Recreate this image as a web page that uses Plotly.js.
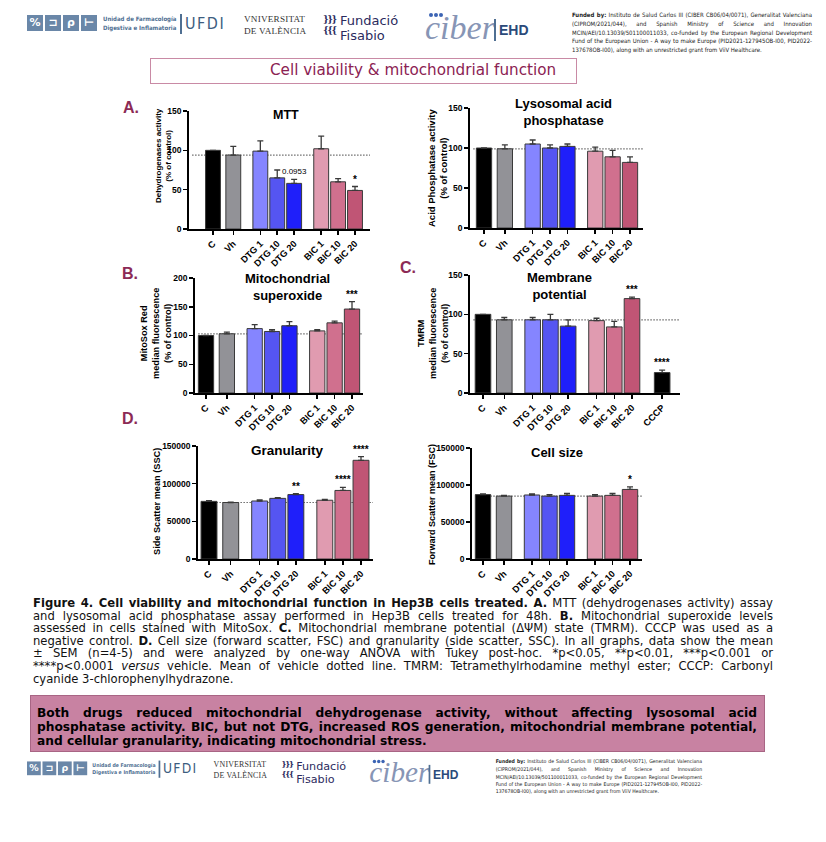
<!DOCTYPE html>
<html><head><meta charset="utf-8">
<script src="https://cdn.plot.ly/plotly-3.0.1.min.js"></script>
<style>
body{margin:0;background:#fff;}
#wrap{position:relative;width:826px;height:842px;overflow:hidden;background:#fff;}
#plot{position:absolute;left:0;top:0;width:826px;height:842px;}
.ov{position:absolute;}
.hdr{position:absolute;width:800px;height:45px;transform-origin:0 0;}
.hdr div{position:absolute;white-space:nowrap;}
.ico{width:16px;height:16px;background:#6a87a8;color:#fff;font:bold 11px 'DejaVu Sans',sans-serif;text-align:center;line-height:16px;}
.t1{font:bold 6px/9px 'DejaVu Sans Condensed','DejaVu Sans',sans-serif;font-stretch:condensed;color:#4f6f92;}
.vbar{width:1.5px;background:#4f6f92;}
.ufdi{font:16px/16px 'DejaVu Sans Condensed','DejaVu Sans',sans-serif;font-stretch:condensed;color:#3d5d80;letter-spacing:1.5px;}
.uv{font:9.2px/12px 'Liberation Serif','DejaVu Serif',serif;color:#333;letter-spacing:0.2px;}
.fisico{font:bold 9px/11px 'DejaVu Serif',serif;color:#2b2b5e;letter-spacing:-1.5px;}
.fis{font:13px/15px 'DejaVu Sans',sans-serif;color:#2b2b5e;}
.ciber{font:italic 34px/34px 'Liberation Serif','DejaVu Serif',serif;color:#8795b5;}
.dot{width:4px;height:4px;border-radius:2px;background:#3c64b4;}
.ehd{font:bold 14px/14px 'Liberation Sans',Arial,sans-serif;color:#2b4a7a;}
.fund{font:6.1px/8.8px 'DejaVu Sans Condensed','DejaVu Sans',sans-serif;font-stretch:condensed;color:#222;width:240px;}
.jl{display:block;white-space:nowrap;text-align:justify;text-align-last:justify;}
.ll{display:block;white-space:nowrap;text-align:left;}
#tbox{left:150px;top:58px;width:427px;height:26px;border:1px solid #c98aa5;box-sizing:border-box;}
#ttext{left:270px;top:61px;font:15.2px/18px 'DejaVu Sans',sans-serif;color:#8b2252;white-space:nowrap;}
#cap{left:33px;top:597px;width:740px;font:10.5px/12.6px 'DejaVu Sans',sans-serif;color:#111;}
#concl{left:30px;top:695px;width:735px;height:57px;background:#c882a2;border:1px solid #a86584;box-sizing:border-box;}
#concltext{left:37px;top:706px;width:720px;font:bold 11.6px/14px 'DejaVu Sans',sans-serif;color:#000;}
</style></head><body>
<div id="wrap">
<div id="plot"></div>

<div class="hdr" id="hdrTop" style="left:27px;top:11px;">
  <div class="ico" style="left:0;top:4px;">%</div>
  <div class="ico" style="left:18px;top:4px;">⊐</div>
  <div class="ico" style="left:36px;top:4px;">ρ</div>
  <div class="ico" style="left:54px;top:4px;">⊢</div>
  <div class="t1" style="left:76px;top:3px;">Unidad de Farmacología<br>Digestiva e Inflamatoria</div>
  <div class="vbar" style="left:153px;top:3px;height:20px;"></div>
  <div class="ufdi" style="left:158px;top:5px;">UFDI</div>
  <div class="uv" style="left:217px;top:2px;">VNIVERSITAT<br>DE VALÈNCIA</div>
  <div class="fisico" style="left:296px;top:3px;">}}}<br>{{{</div>
  <div class="fis" style="left:313px;top:2px;">Fundació<br>Fisabio</div>
  <div class="ciber" style="left:398px;top:0px;">ciber</div>
  <div class="dot" style="left:402px;top:2px;"></div>
  <div class="dot" style="left:407px;top:2px;"></div>
  <div class="dot" style="left:412px;top:2px;"></div>
  <div class="vbar" style="left:467px;top:8px;height:22px;"></div>
  <div class="ehd" style="left:472px;top:12px;">EHD</div>
  <div class="fund" style="left:545px;top:0px;">
    <span class="jl"><b>Funded by:</b> Instituto de Salud Carlos III (CIBER CB06/04/0071), Generalitat Valenciana</span>
    <span class="jl">(CIPROM/2021/044), and Spanish Ministry of Science and Innovation</span>
    <span class="jl">MCIN/AEI/10.13039/501100011033, co-funded by the European Regional Development</span>
    <span class="jl">Fund of the European Union - A way to make Europe (PID2021-127945OB-I00, PID2022-</span>
    <span class="ll">137678OB-I00), along with an unrestricted grant from ViiV Healthcare.</span>
  </div>
</div>

<div class="ov" id="tbox"></div>
<div class="ov" id="ttext">Cell viability &amp; mitochondrial function</div>

<div class="ov" id="cap">
<span class="jl"><b>Figure 4. Cell viability and mitochondrial function in Hep3B cells treated. A.</b> MTT (dehydrogenases activity) assay</span>
<span class="jl">and lysosomal acid phosphatase assay performed in Hep3B cells treated for 48h. <b>B.</b> Mitochondrial superoxide levels</span>
<span class="jl">assessed in cells stained with MitoSox. <b>C.</b> Mitochondrial membrane potential (ΔΨM) state (TMRM). CCCP was used as a</span>
<span class="jl">negative control. <b>D.</b> Cell size (forward scatter, FSC) and granularity (side scatter, SSC). In all graphs, data show the mean</span>
<span class="jl">± SEM (n=4-5) and were analyzed by one-way ANOVA with Tukey post-hoc. *p&lt;0.05, **p&lt;0.01, ***p&lt;0.001 or</span>
<span class="jl">****p&lt;0.0001 <i>versus</i> vehicle. Mean of vehicle dotted line. TMRM: Tetramethylrhodamine methyl ester; CCCP: Carbonyl</span>
<span class="ll">cyanide 3-chlorophenylhydrazone.</span>
</div>

<div class="ov" id="concl"></div>
<div class="ov" id="concltext">
<span class="jl">Both drugs reduced mitochondrial dehydrogenase activity, without affecting lysosomal acid</span>
<span class="jl">phosphatase activity. BIC, but not DTG, increased ROS generation, mitochondrial membrane potential,</span>
<span class="ll">and cellular granularity, indicating mitochondrial stress.</span>
</div>
</div>

<script>
// ---------------- DATA ----------------
const categories  = ['C','Vh','DTG 1','DTG 10','DTG 20','BIC 1','BIC 10','BIC 20'];
const categoriesC = ['C','Vh','DTG 1','DTG 10','DTG 20','BIC 1','BIC 10','BIC 20','CCCP'];

const mttMean = [100, 94, 99, 65, 58, 102, 60, 49];
const mttSem  = [0, 11, 13, 10, 5, 16, 4, 5];
const mttSig  = ['', '', '', '', '0.0953', '', '', '*'];

const lysMean = [100, 99, 105, 100, 102, 96, 89, 82];
const lysSem  = [0, 5, 5, 4, 3, 5, 8, 7];
const lysSig  = ['', '', '', '', '', '', '', ''];

const mitoMean = [100, 103, 112, 107, 117, 108, 122, 146];
const mitoSem  = [0, 3, 7, 3, 7, 2, 3, 13];
const mitoSig  = ['', '', '', '', '', '', '', '***'];

const tmrmMean = [100, 93, 93, 93, 85, 92, 84, 120, 26];
const tmrmSem  = [0, 3, 3, 7, 8, 3, 7, 2, 3];
const tmrmSig  = ['', '', '', '', '', '', '', '***', '****'];

const sscMean = [76500, 75000, 77000, 80500, 85500, 78000, 91000, 131000];
const sscSem  = [1000, 500, 1500, 800, 1200, 1000, 4000, 5000];
const sscSig  = ['', '', '', '', '**', '', '****', '****'];

const fscMean = [87000, 85000, 86500, 85000, 86000, 85000, 86000, 94000];
const fscSem  = [1000, 1000, 1500, 2000, 2500, 2000, 2500, 3500];
const fscSig  = ['', '', '', '', '', '', '', '*'];

// ---------------- STYLE / LAYOUT ----------------
const barColors = ['#000000','#929297','#8585ff','#5555f2','#1f1ffa','#e09bb0','#d0708e','#c05575','#000000'];
const slotPos = [0, 1.2, 2.8, 3.8, 4.8, 6.4, 7.4, 8.4, 10.1];
const W = 826, H = 842;
const FONT = 'Arial, "Liberation Sans", sans-serif';
const LETTER = '#8c2a55';

const panels = [
  {cats:categories, mean:mttMean, sem:mttSem, sig:mttSig, ymax:150, dtick:50,
   box:{x0:189,x1:370,yTop:111,yBot:229,xC:213,xLast:355},
   title:'MTT', tx:286, ty:115, tsize:12.5,
   ytitle:'Dehydrogenases activity<br>(% of control)', yx:164, yy:156, ysize:8},
  {cats:categories, mean:lysMean, sem:lysSem, sig:lysSig, ymax:150, dtick:50,
   box:{x0:470,x1:643,yTop:108,yBot:228,xC:484,xLast:630},
   title:'Lysosomal acid<br>phosphatase', tx:563, ty:112, tsize:13,
   ytitle:'Acid Phosphatase activity<br>(% of control)', yx:437, yy:168, ysize:9.5},
  {cats:categories, mean:mitoMean, sem:mitoSem, sig:mitoSig, ymax:200, dtick:50,
   box:{x0:195,x1:363,yTop:278,yBot:393,xC:206,xLast:352},
   title:'Mitochondrial<br>superoxide', tx:287, ty:287, tsize:13,
   ytitle:'MitoSox Red<br>median fluorescence<br>(% of control)', yx:156, yy:334, ysize:9.2},
  {cats:categoriesC, mean:tmrmMean, sem:tmrmSem, sig:tmrmSig, ymax:150, dtick:50,
   box:{x0:470,x1:680,yTop:275,yBot:393,xC:483,xLast:632},
   title:'Membrane<br>potential', tx:559, ty:286, tsize:13,
   ytitle:'TMRM<br>median fluorescence<br>(% of control)', yx:433, yy:334, ysize:9.2},
  {cats:categories, mean:sscMean, sem:sscSem, sig:sscSig, ymax:150000, dtick:50000,
   box:{x0:198,x1:373,yTop:446,yBot:559,xC:209,xLast:361},
   title:'Granularity', tx:287, ty:450, tsize:13.5,
   ytitle:'Side Scatter mean (SSC)', yx:157, yy:502, ysize:9.2},
  {cats:categories, mean:fscMean, sem:fscSem, sig:fscSig, ymax:150000, dtick:50000,
   box:{x0:472,x1:642,yTop:448,yBot:559,xC:483,xLast:630},
   title:'Cell size', tx:557, ty:452, tsize:13,
   ytitle:'Forward Scatter mean (FSC)', yx:432, yy:505, ysize:9}
];

const letters = [
  {t:'A.', x:131, y:108}, {t:'B.', x:130, y:273}, {t:'C.', x:408, y:268}, {t:'D.', x:130, y:418}
];

const traces = [], shapes = [], annotations = [];
const layout = {
  width: W, height: H, margin:{l:0,r:0,t:0,b:0},
  paper_bgcolor:'rgba(0,0,0,0)', plot_bgcolor:'rgba(0,0,0,0)',
  showlegend:false, font:{family:FONT, color:'#000'}
};

panels.forEach((p, i) => {
  const n = i + 1;
  const xa = 'x' + (n === 1 ? '' : n), ya = 'y' + (n === 1 ? '' : n);
  const xkey = 'xaxis' + (n === 1 ? '' : n), ykey = 'yaxis' + (n === 1 ? '' : n);
  const b = p.box;
  const u = (b.xLast - b.xC) / slotPos[7];
  const xr = [(b.x0 - b.xC) / u, (b.x1 - b.xC) / u];
  const xs = p.cats.map((c, k) => slotPos[k]);
  traces.push({
    type:'bar', x:xs, y:p.mean, xaxis:xa, yaxis:ya, width:0.88,
    marker:{color:barColors.slice(0, p.cats.length), line:{color:'#3a3a3a', width:1}},
    error_y:{type:'data', symmetric:false, array:p.sem.map(v => v > 0 ? v : NaN),
             arrayminus:p.sem.map(() => 0), color:'#3a3a3a', thickness:1.3, width:3},
    hoverinfo:'skip'
  });
  layout[xkey] = {
    domain:[b.x0 / W, b.x1 / W], range:xr, anchor:ya,
    tickmode:'array', tickvals:xs, ticktext:p.cats, tickangle:-45,
    tickfont:{family:FONT, size:9.2, weight:'bold', color:'#000'},
    showline:true, linecolor:'#000', linewidth:1.8, ticks:'outside', ticklen:4, tickwidth:1.5,
    tickcolor:'#000', showgrid:false, zeroline:false, fixedrange:true
  };
  layout[ykey] = {
    domain:[1 - b.yBot / H, 1 - b.yTop / H], range:[0, p.ymax], anchor:xa,
    tickmode:'linear', tick0:0, dtick:p.dtick, tickformat:'d',
    tickfont:{family:FONT, size:8.5, weight:'bold', color:'#000'},
    showline:true, linecolor:'#000', linewidth:1.8, ticks:'outside', ticklen:4, tickwidth:1.5,
    tickcolor:'#000', showgrid:false, zeroline:false, fixedrange:true
  };
  // vehicle mean dotted line
  const vh = p.mean[p.cats.indexOf('Vh')];
  shapes.push({type:'line', xref:xa, yref:ya, x0:xr[0] + 0.2, x1:xr[1], y0:vh, y1:vh,
               layer:'below', line:{color:'#222', width:1.2, dash:'1px,2px'}});
  // significance labels
  p.sig.forEach((s, k) => {
    if (!s) return;
    const isNum = /[0-9]/.test(s);
    annotations.push({xref:xa, yref:ya, x:xs[k], y:p.mean[k] + p.sem[k], text:s,
      showarrow:false, yanchor:'bottom', yshift:isNum ? 1 : 0,
      font:{family:FONT, size:isNum ? 8 : 10, weight:isNum ? 'normal' : 'bold', color:'#000'}});
  });
  // titles
  annotations.push({xref:'paper', yref:'paper', x:p.tx / W, y:1 - p.ty / H, text:p.title,
    showarrow:false, xanchor:'center', yanchor:'middle', align:'center',
    font:{family:FONT, size:p.tsize, weight:'bold', color:'#000'}});
  annotations.push({xref:'paper', yref:'paper', x:p.yx / W, y:1 - p.yy / H, text:p.ytitle,
    showarrow:false, xanchor:'center', yanchor:'middle', align:'center', textangle:-90,
    font:{family:FONT, size:p.ysize, weight:'bold', color:'#000'}});
});

letters.forEach(l => annotations.push({xref:'paper', yref:'paper', x:l.x / W, y:1 - l.y / H,
  text:l.t, showarrow:false, xanchor:'center', yanchor:'middle',
  font:{family:FONT, size:16, weight:'bold', color:LETTER}}));

layout.shapes = shapes;
layout.annotations = annotations;

Plotly.newPlot('plot', traces, layout, {staticPlot:true, displayModeBar:false});

// bottom logo strip (scaled copy of the top one)
const bot = document.getElementById('hdrTop').cloneNode(true);
bot.id = 'hdrBot';
bot.style.top = '758px';
bot.style.transform = 'scale(0.86)';
document.getElementById('wrap').appendChild(bot);

// text fitting helpers for the justified paragraphs
function natural(el){
  const probe = document.createElement('span');
  probe.style.cssText = 'position:absolute;visibility:hidden;white-space:nowrap;letter-spacing:' +
    (el.style.letterSpacing || 'normal');
  probe.innerHTML = el.innerHTML;
  el.parentElement.appendChild(probe);
  const w = probe.offsetWidth;
  probe.remove();
  return w;
}
function fitBlock(block, maxSize){
  const target = block.clientWidth;
  const lines = Array.from(block.querySelectorAll('.jl'));
  const cs = parseFloat(getComputedStyle(block).fontSize);
  const maxW = Math.max(...lines.map(natural));
  let size = cs * target / maxW * 0.985;
  size = Math.min(size, maxSize);
  block.style.fontSize = size + 'px';
  block.querySelectorAll('.jl, .ll').forEach(el => {
    const w = natural(el);
    if (w > target) {
      el.style.letterSpacing = ((target - w) / el.textContent.length - 0.02) + 'px';
    }
  });
}
fitBlock(document.getElementById('cap'), 11.6);
fitBlock(document.getElementById('concltext'), 12.6);
document.querySelectorAll('.fund').forEach(f => fitBlock(f, 6.4));
</script>
</body></html>
